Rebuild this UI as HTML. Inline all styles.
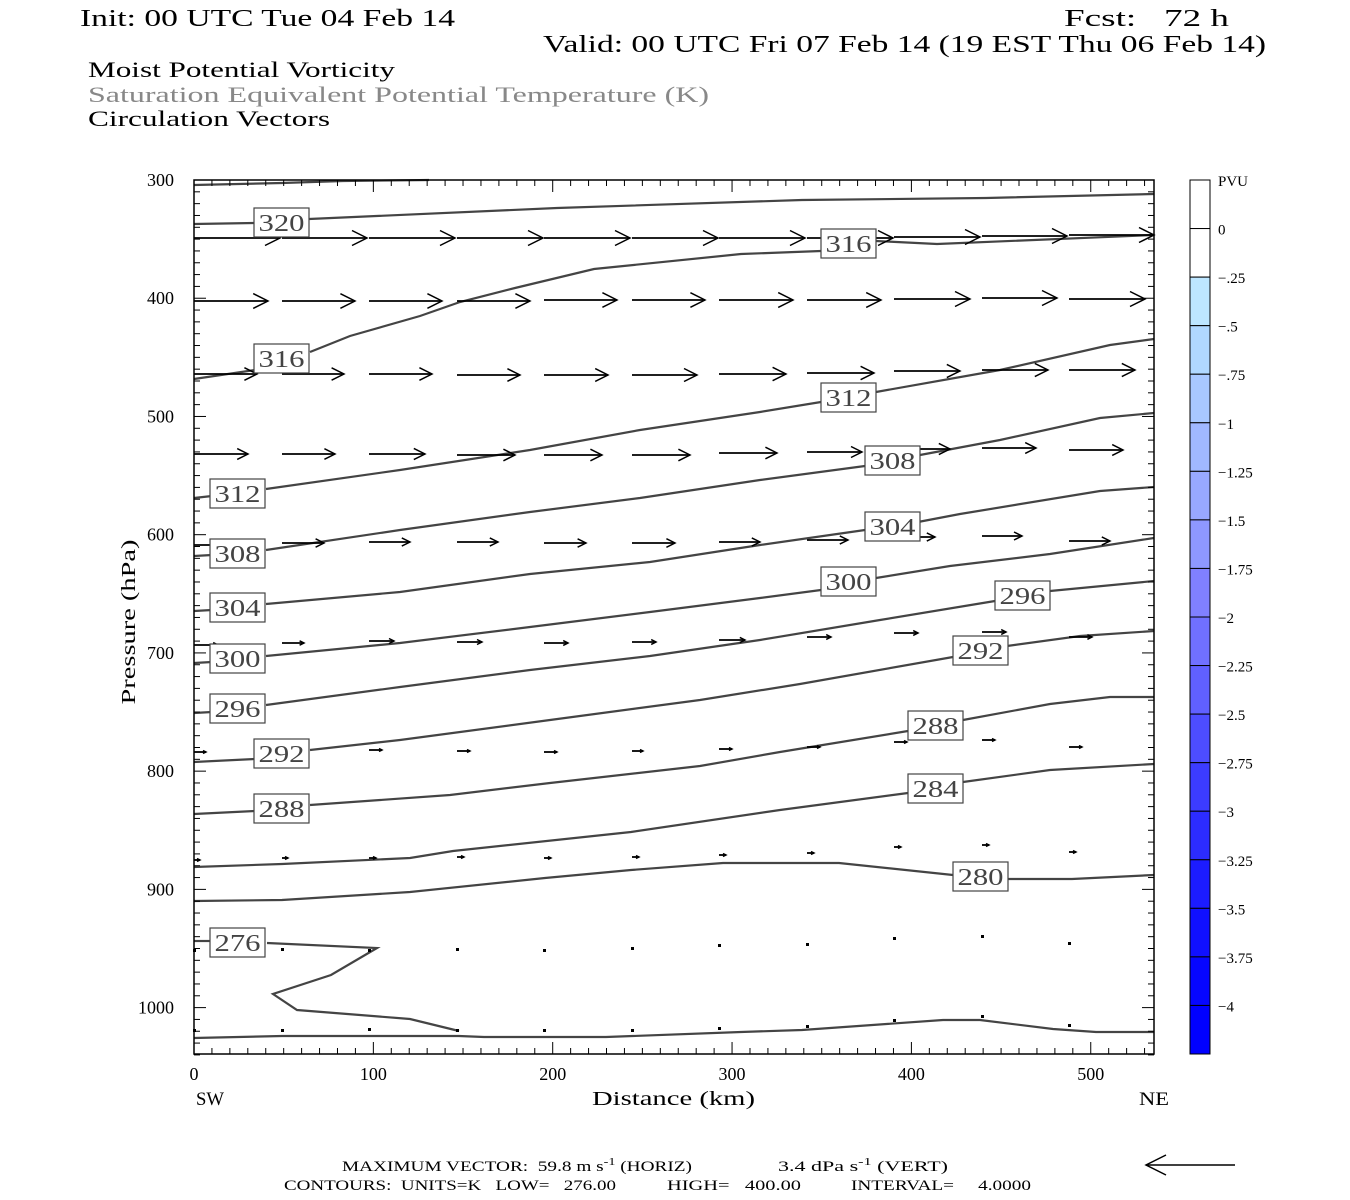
<!DOCTYPE html>
<html><head><meta charset="utf-8"><style>
html,body{margin:0;padding:0;background:#fff;}
svg{display:block;}
text{font-family:"Liberation Serif",serif;white-space:pre;}
</style></head><body>
<svg id="s" width="1350" height="1200" viewBox="0 0 1350 1200" xmlns="http://www.w3.org/2000/svg" xml:space="preserve">
<rect width="1350" height="1200" fill="#fff"/>
<text x="80" y="26" font-size="24" textLength="375" lengthAdjust="spacingAndGlyphs">Init: 00 UTC Tue 04 Feb 14</text>
<text x="1064" y="26" font-size="24" textLength="165" lengthAdjust="spacingAndGlyphs">Fcst:   72 h</text>
<text x="543" y="52" font-size="24" textLength="723" lengthAdjust="spacingAndGlyphs">Valid: 00 UTC Fri 07 Feb 14 (19 EST Thu 06 Feb 14)</text>
<text x="88" y="77" font-size="22" textLength="307" lengthAdjust="spacingAndGlyphs">Moist Potential Vorticity</text>
<text x="88" y="102" font-size="22" fill="#888" textLength="621" lengthAdjust="spacingAndGlyphs">Saturation Equivalent Potential Temperature (K)</text>
<text x="88" y="126" font-size="22" textLength="242" lengthAdjust="spacingAndGlyphs">Circulation Vectors</text>
<g id="g"></g>
<text x="342" y="1171" font-size="15" textLength="350" lengthAdjust="spacingAndGlyphs">MAXIMUM VECTOR:  59.8 m s<tspan dy="-6" font-size="11">-1</tspan><tspan dy="6"> (HORIZ)</tspan></text>
<text x="778" y="1171" font-size="15" textLength="170" lengthAdjust="spacingAndGlyphs">3.4 dPa s<tspan dy="-6" font-size="11">-1</tspan><tspan dy="6"> (VERT)</tspan></text>
<text x="284" y="1190" font-size="15" textLength="332" lengthAdjust="spacingAndGlyphs">CONTOURS:  UNITS=K   LOW=   276.00</text>
<text x="667" y="1190" font-size="15" textLength="134" lengthAdjust="spacingAndGlyphs">HIGH=   400.00</text>
<text x="851" y="1190" font-size="15" textLength="180" lengthAdjust="spacingAndGlyphs">INTERVAL=     4.0000</text>
<text x="194" y="1080" font-size="18" text-anchor="middle">0</text>
<text x="196" y="1105" font-size="19" textLength="28" lengthAdjust="spacingAndGlyphs">SW</text>
<text x="592" y="1105" font-size="20" textLength="163" lengthAdjust="spacingAndGlyphs">Distance (km)</text>
<text x="1139" y="1105" font-size="19" textLength="30" lengthAdjust="spacingAndGlyphs">NE</text>
<text transform="translate(135,622) rotate(-90)" font-size="20" text-anchor="middle" textLength="165" lengthAdjust="spacingAndGlyphs">Pressure (hPa)</text>
</svg>
<script>
var NS="http://www.w3.org/2000/svg",g=document.getElementById("g");
function el(t,a,txt){var e=document.createElementNS(NS,t);for(var k in a)e.setAttribute(k,a[k]);if(txt!=null)e.textContent=txt;g.appendChild(e);return e;}
function py(p){return 180+(p-300)*1.1823;}
function px(d){return 194+d*1.7935;}
var cols=["#fff","#fff","#bde6ff","#b0d8ff","#a8c8ff","#a0b8ff","#98a8ff","#8e98ff","#8080ff","#7070ff","#6060ff","#4d4dff","#3c3cff","#2c2cff","#1c1cff","#1010ff","#0606ff","#0000ff"];
var bh=(1054-180)/18;
for(var i=0;i<18;i++){el("rect",{x:1190,y:180+i*bh,width:20,height:bh,fill:cols[i],stroke:"#000","stroke-width":1});}
var cl=["0","\u2212.25","\u2212.5","\u2212.75","\u22121","\u22121.25","\u22121.5","\u22121.75","\u22122","\u22122.25","\u22122.5","\u22122.75","\u22123","\u22123.25","\u22123.5","\u22123.75","\u22124"];
el("text",{x:1218,y:186,"font-size":15},"PVU");
for(var i=0;i<cl.length;i++)el("text",{x:1218,y:180+(i+1)*bh+6,"font-size":15},cl[i]);
var C=[
[[194,185],[282,183],[343,181],[429,180]],
[[194,224],[254,223]],[[309,219],[557,208],[802,200],[986,198],[1154,194]],
[[194,379],[255,370]],[[310,352],[350,336],[420,316],[460,302],[515,288],[594,269],[741,254],[821,251]],[[876,241],[937,244],[1154,235]],
[[194,498],[212,496]],[[266,489],[400,470],[530,450],[640,430],[760,412],[821,402]],[[876,392],[1000,370],[1110,345],[1154,339]],
[[194,556],[212,555]],[[266,550],[400,530],[530,512],[640,498],[760,480],[865,466]],[[920,455],[1000,440],[1100,418],[1154,413]],
[[194,611],[212,610]],[[266,604],[400,592],[530,574],[650,562],[760,545],[865,530]],[[918,522],[960,514],[1100,491],[1154,487]],
[[194,663],[212,662]],[[266,656],[400,643],[530,627],[650,612],[760,598],[821,590]],[[876,578],[950,566],[1050,554],[1154,538]],
[[194,713],[212,712]],[[266,705],[400,687],[530,670],[650,656],[760,640],[880,620],[995,601]],[[1050,591],[1154,581]],
[[194,762],[255,759]],[[310,750],[400,740],[550,720],[700,700],[800,684],[953,657]],[[1007,646],[1080,636],[1154,631]],
[[194,814],[255,811]],[[310,805],[450,795],[550,783],[700,766],[780,752],[908,731]],[[963,720],[1050,704],[1110,697],[1154,697]],
[[194,867],[282,864],[410,858],[453,851],[631,832],[780,810],[908,793]],[[963,782],[1050,770],[1154,764]],
[[194,901],[282,900],[410,892],[545,878],[631,870],[723,863],[839,863],[953,875]],[[1007,879],[1072,879],[1154,875]],
[[194,941],[210,941]],[[267,943],[377,948],[331,975],[273,994],[297,1010],[410,1019],[459,1031]],
[[194,1038],[282,1036],[459,1036],[484,1037],[606,1037],[741,1032],[802,1030],[943,1020],[980,1020],[1053,1029],[1096,1032],[1154,1032]]
];
C.forEach(function(c){el("polyline",{points:c.map(function(p){return p.join(",")}).join(" "),fill:"none",stroke:"#444","stroke-width":2.2});});
function arrow(x,y,L){var x2=x+L,y2=y;var h=Math.min(15,Math.max(3,L*0.2));
el("line",{x1:x,y1:y,x2:x2,y2:y2,stroke:"#000","stroke-width":1.8});
el("polyline",{points:(x2-h)+","+(y2-h*0.5)+" "+x2+","+y2+" "+(x2-h)+","+(y2+h*0.5),fill:"none",stroke:"#000","stroke-width":1.5});}
var gx=[194,282,369,457,544,632,719,807,894,982,1069];
var rows=[
{y:[238,238,238,238,238,238,238,238,237,236,235],L:[86,85,86,86,86,86,86,86,86,85,85]},
{y:[301,301,301,301,300,300,300,300,299,298,299],L:[74,73,73,73,73,73,74,74,76,75,76]},
{y:[374,374,374,375,375,375,374,373,371,370,370],L:[63,62,63,63,64,65,67,67,66,66,66]},
{y:[454,454,454,455,455,455,453,452,449,448,450],L:[54,53,56,58,58,58,58,55,56,54,54]},
{y:[545,543,542,542,543,543,542,540,537,536,541],L:[39,42,41,41,42,43,41,41,41,40,41]},
{y:[645,643,641,642,643,642,640,637,633,632,637],L:[24,22,25,25,24,24,26,24,24,24,23]},
{y:[752,752,750,751,752,751,749,747,742,740,747],L:[12,9,13,13,13,11,13,13,13,13,13]},
{y:[860,858,858,857,858,857,855,853,847,845,852],L:[6,6,7,7,7,7,7,7,7,7,7]}
];
rows.forEach(function(r){for(var i=0;i<11;i++)arrow(gx[i],r.y[i],r.L[i]);});
[[194,950],[282,949],[369,950],[457,949],[544,950],[632,948],[719,945],[807,944],[894,938],[982,936],[1069,943]].forEach(function(p){el("rect",{x:p[0]-1,y:p[1]-1,width:3,height:3,fill:"#000"});});
[[194,1030],[282,1030],[369,1029],[457,1030],[544,1030],[632,1030],[719,1028],[807,1026],[894,1020],[982,1016],[1069,1025]].forEach(function(p){el("rect",{x:p[0]-1,y:p[1]-1,width:3,height:3,fill:"#000"});});
var LB=[["320",254,208],["316",821,229],["316",254,344],["312",821,383],["312",210,479],["308",865,446],["308",210,539],["304",865,512],["304",210,593],["300",821,567],["300",210,644],["296",995,581],["296",210,694],["292",953,636],["292",254,739],["288",908,711],["288",254,794],["284",908,774],["276",210,928],["280",953,862]];
LB.forEach(function(l){el("rect",{x:l[1],y:l[2],width:55,height:29,fill:"#fff",stroke:"#444","stroke-width":1.2});
el("text",{x:l[1]+27.5,y:l[2]+23,"font-size":24,"text-anchor":"middle",fill:"#444",textLength:46,lengthAdjust:"spacingAndGlyphs"},l[0]);});
el("rect",{x:194,y:180,width:960,height:874,fill:"none",stroke:"#000","stroke-width":1.5});
for(var p=300;p<=1040;p+=10){var y=py(p),L=(p%100==0)?12:6;
el("line",{x1:194,y1:y,x2:194+L,y2:y,stroke:"#000","stroke-width":1});el("line",{x1:1154,y1:y,x2:1154-L,y2:y,stroke:"#000","stroke-width":1});
if(p%100==0&&p<=1000)el("text",{x:174,y:y+6,"font-size":18,"text-anchor":"end"},""+p);}
for(var d=10;d<=530;d+=10){var x=px(d),L=(d%100==0)?12:6;
el("line",{x1:x,y1:180,x2:x,y2:180+L,stroke:"#000","stroke-width":1});el("line",{x1:x,y1:1054,x2:x,y2:1054-L,stroke:"#000","stroke-width":1});
if(d%100==0)el("text",{x:x,y:1080,"font-size":18,"text-anchor":"middle"},""+d);}
el("line",{x1:1146,y1:1165,x2:1235,y2:1165,stroke:"#000","stroke-width":1.5});
el("polyline",{points:"1166,1155 1146,1165 1166,1175",fill:"none",stroke:"#000","stroke-width":1.5});
</script>
</body></html>
